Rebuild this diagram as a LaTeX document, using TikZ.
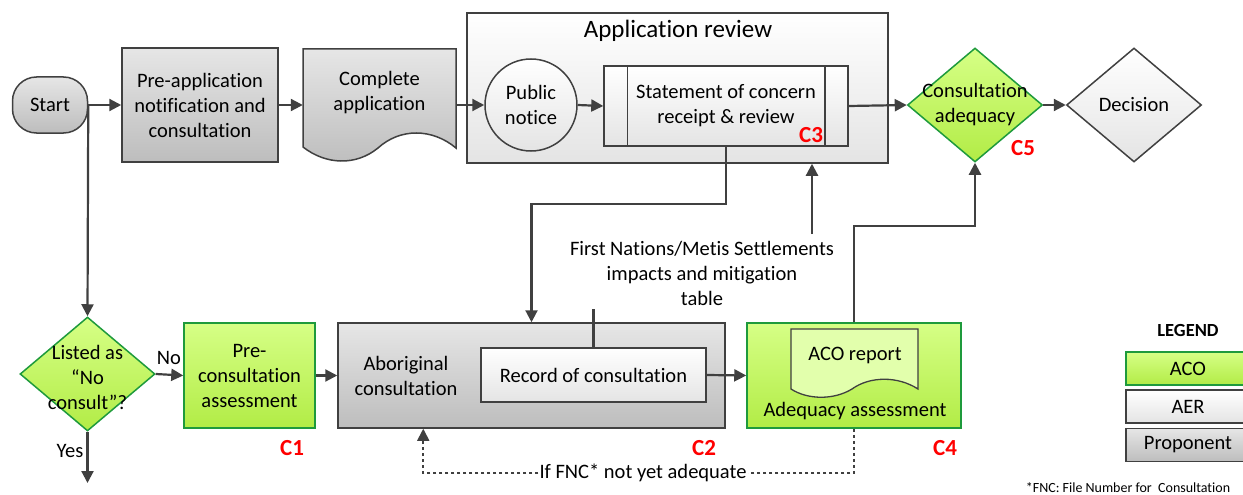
\documentclass[tikz,border=0pt]{standalone}
\usepackage{fontspec}
\setmainfont{Carlito}[Ligatures=NoCommon]
\usetikzlibrary{arrows.meta,shapes.geometric,calc}

\definecolor{linegray}{HTML}{404040}
\definecolor{acoedge}{HTML}{1E9A3C}
\definecolor{acotop}{HTML}{D6FF86}
\definecolor{acobot}{HTML}{B2EC46}
\definecolor{protop}{HTML}{E6E6E6}
\definecolor{probot}{HTML}{BDBDBD}
\definecolor{aertop}{HTML}{FFFFFF}
\definecolor{aerbot}{HTML}{E4E4E4}
\definecolor{docgreen}{HTML}{E2FFAC}
\definecolor{cred}{HTML}{FF0000}

\tikzset{
  bodytext/.style={font=\fontsize{20.5}{25}\selectfont, align=center, text=black},
  shapeline/.style={draw=linegray, line width=1.5pt},
  probox/.style={shapeline, top color=protop, bottom color=probot, inner sep=0pt},
  aerbox/.style={shapeline, top color=aertop, bottom color=aerbot, inner sep=0pt},
  acobox/.style={draw=acoedge, line width=1.5pt, top color=acotop, bottom color=acobot, inner sep=0pt},
  flow/.style={draw=linegray, line width=2.2pt, -{Triangle[length=12pt,width=12pt]}},
  plainline/.style={draw=linegray, line width=2.2pt},
  loopline/.style={draw=linegray, line width=1.7pt, dash pattern=on 3.5pt off 2.5pt, -{Triangle[length=12pt,width=12pt]}},
  ctag/.style={font=\fontsize{23}{25}\bfseries\selectfont, text=cred, inner sep=0pt},
  gem/.style={diamond, minimum width=135pt, minimum height=114pt, inner sep=0pt, aspect=1.18},
}

\begin{document}
\begin{tikzpicture}[x=1pt,y=-1pt]
\useasboundingbox (0,0) rectangle (1243,495);
\clip (0,0) rectangle (1243,495);

% ---------- top row ----------
\node[probox, rounded corners=24pt, minimum width=75pt, minimum height=56pt, bodytext] (start) at (50,105) {Start};
\node[probox, minimum width=156pt, minimum height=114pt, bodytext] (pre) at (200,105) {Pre-application\\notification and\\consultation};

% document shape: complete application
\node[minimum width=153pt, minimum height=112pt, inner sep=0pt] (capp) at (379.5,105) {};
\draw[probox] (303,49) -- (456,49) -- (456,148)
  .. controls (432,128) and (400,128) .. (378,148)
  .. controls (356,166) and (326,165) .. (303,147) -- cycle;
\node[bodytext] (capptext) at (379.5,93) {Complete\\application};

% application review container
\node[aerbox, minimum width=421pt, minimum height=150pt] (review) at (677.5,88) {};
\node[font=\fontsize{25}{28}\selectfont] (reviewtitle) at (678,31) {Application review};
\node[aerbox, circle, minimum size=92pt, bodytext] (pub) at (531,105) {Public\\notice};
\node[aerbox, minimum width=244pt, minimum height=80pt, bodytext] (soc) at (726,106) {Statement of concern\\receipt \& review};
\draw[shapeline] ($(soc.north west)+(24,0)$) -- ($(soc.south west)+(24,0)$);
\draw[shapeline] ($(soc.north east)+(-24,0)$) -- ($(soc.south east)+(-24,0)$);
\node[ctag] (c3) at (811,135) {C3};

\node[gem, acobox] (ca) at (975,105) {};
\node[bodytext] (catext) at (975,105) {Consultation\\adequacy};
\node[ctag] (c5) at (1023,148) {C5};
\node[gem, aerbox] (dec) at (1134,105) {};
\node[bodytext] (dectext) at (1134,105) {Decision};

% ---------- bottom row ----------
\node[gem, acobox] (listed) at (87.5,374) {};
\node[bodytext] (listedtext) at (87.5,377) {Listed as\\\char"201C No\\consult\char"201D?};
\node[acobox, minimum width=131pt, minimum height=105pt, bodytext] (precon) at (249.5,375.5) {Pre-\\consultation\\assessment};
\node[ctag] (c1) at (292,448) {C1};

\node[probox, minimum width=387pt, minimum height=105pt] (abor) at (531.5,375.5) {};
\node[bodytext] (abortext) at (406,376) {Aboriginal\\consultation};
\node[aerbox, minimum width=225pt, minimum height=54pt, bodytext] (rec) at (593.5,375) {Record of consultation};
\node[ctag] (c2) at (704,448) {C2};

\node[acobox, minimum width=214pt, minimum height=105pt] (adeq) at (854,375.5) {};
\draw[draw=linegray, line width=1.3pt, fill=docgreen] (791,329) -- (918,329) -- (918,389)
  .. controls (898,376) and (870,376) .. (852,389)
  .. controls (834,400) and (808,400) .. (791,389) -- cycle;
\node[bodytext] (acorep) at (855,355) {ACO report};
\node[bodytext] (adeqtext) at (855,411) {Adequacy assessment};
\node[ctag] (c4) at (945,448) {C4};

% ---------- connectors ----------
\draw[flow] (start.east) -- (pre.west);
\draw[flow] (pre.east) -- (capp.west);
\draw[flow] (capp.east) -- (pub.west);
\draw[flow] (pub.east) -- (soc.west);
\draw[flow] (soc.east) -- (ca.west);
\draw[flow] (ca.east) -- (dec.west);

\draw[flow] (start.east) -- (listed.north);
\coordinate (yesend) at (87.5,483);
\draw[flow] (listed.south) -- (yesend);
\node[bodytext] (yes) at (70,451) {Yes};
\draw[flow] (listed.east) -- (precon.west);
\node[bodytext] (no) at (169,358) {No};
\draw[flow] (precon.east) -- (abor.west);
\draw[flow] (rec.east) -- (adeq.west);

\draw[flow] (soc.south) -- ++(0,57) -| (abor.north);
\node[bodytext] (fnmtable) at (702,273) {First Nations/Metis Settlements\\impacts and mitigation\\table};
\coordinate (tabletop) at (812,234);
\draw[flow] (tabletop) -- (tabletop |- review.south);
\coordinate (tablefoot) at (593.5,309);
\draw[plainline] (rec.north) -- (tablefoot);
\draw[flow] (adeq.north) -- ++(0,-96) -| (ca.south);

\coordinate (loopcorner) at (854,473);
\draw[loopline] (adeq.south) -- (loopcorner) -| ($(abor.south west)+(86,0)$);
\node[bodytext, fill=white, inner sep=1pt] (looplabel) at (643,473) {If FNC* not yet adequate};

% ---------- legend ----------
\node[font=\fontsize{18.5}{20}\bfseries\selectfont] (legend) at (1188,330) {LEGEND};
\node[acobox, minimum width=124pt, minimum height=33pt, bodytext] (legaco) at (1188,368.5) {ACO};
\node[aerbox, minimum width=124pt, minimum height=33pt, bodytext] (legaer) at (1188,406.5) {AER};
\node[probox, minimum width=124pt, minimum height=33pt, bodytext] (legpro) at (1188,445) {Proponent};
\node[font=\fontsize{14}{15}\selectfont] (footnote) at (1128,488) {*FNC: File Number for\ \ Consultation};
\end{tikzpicture}
\end{document}
